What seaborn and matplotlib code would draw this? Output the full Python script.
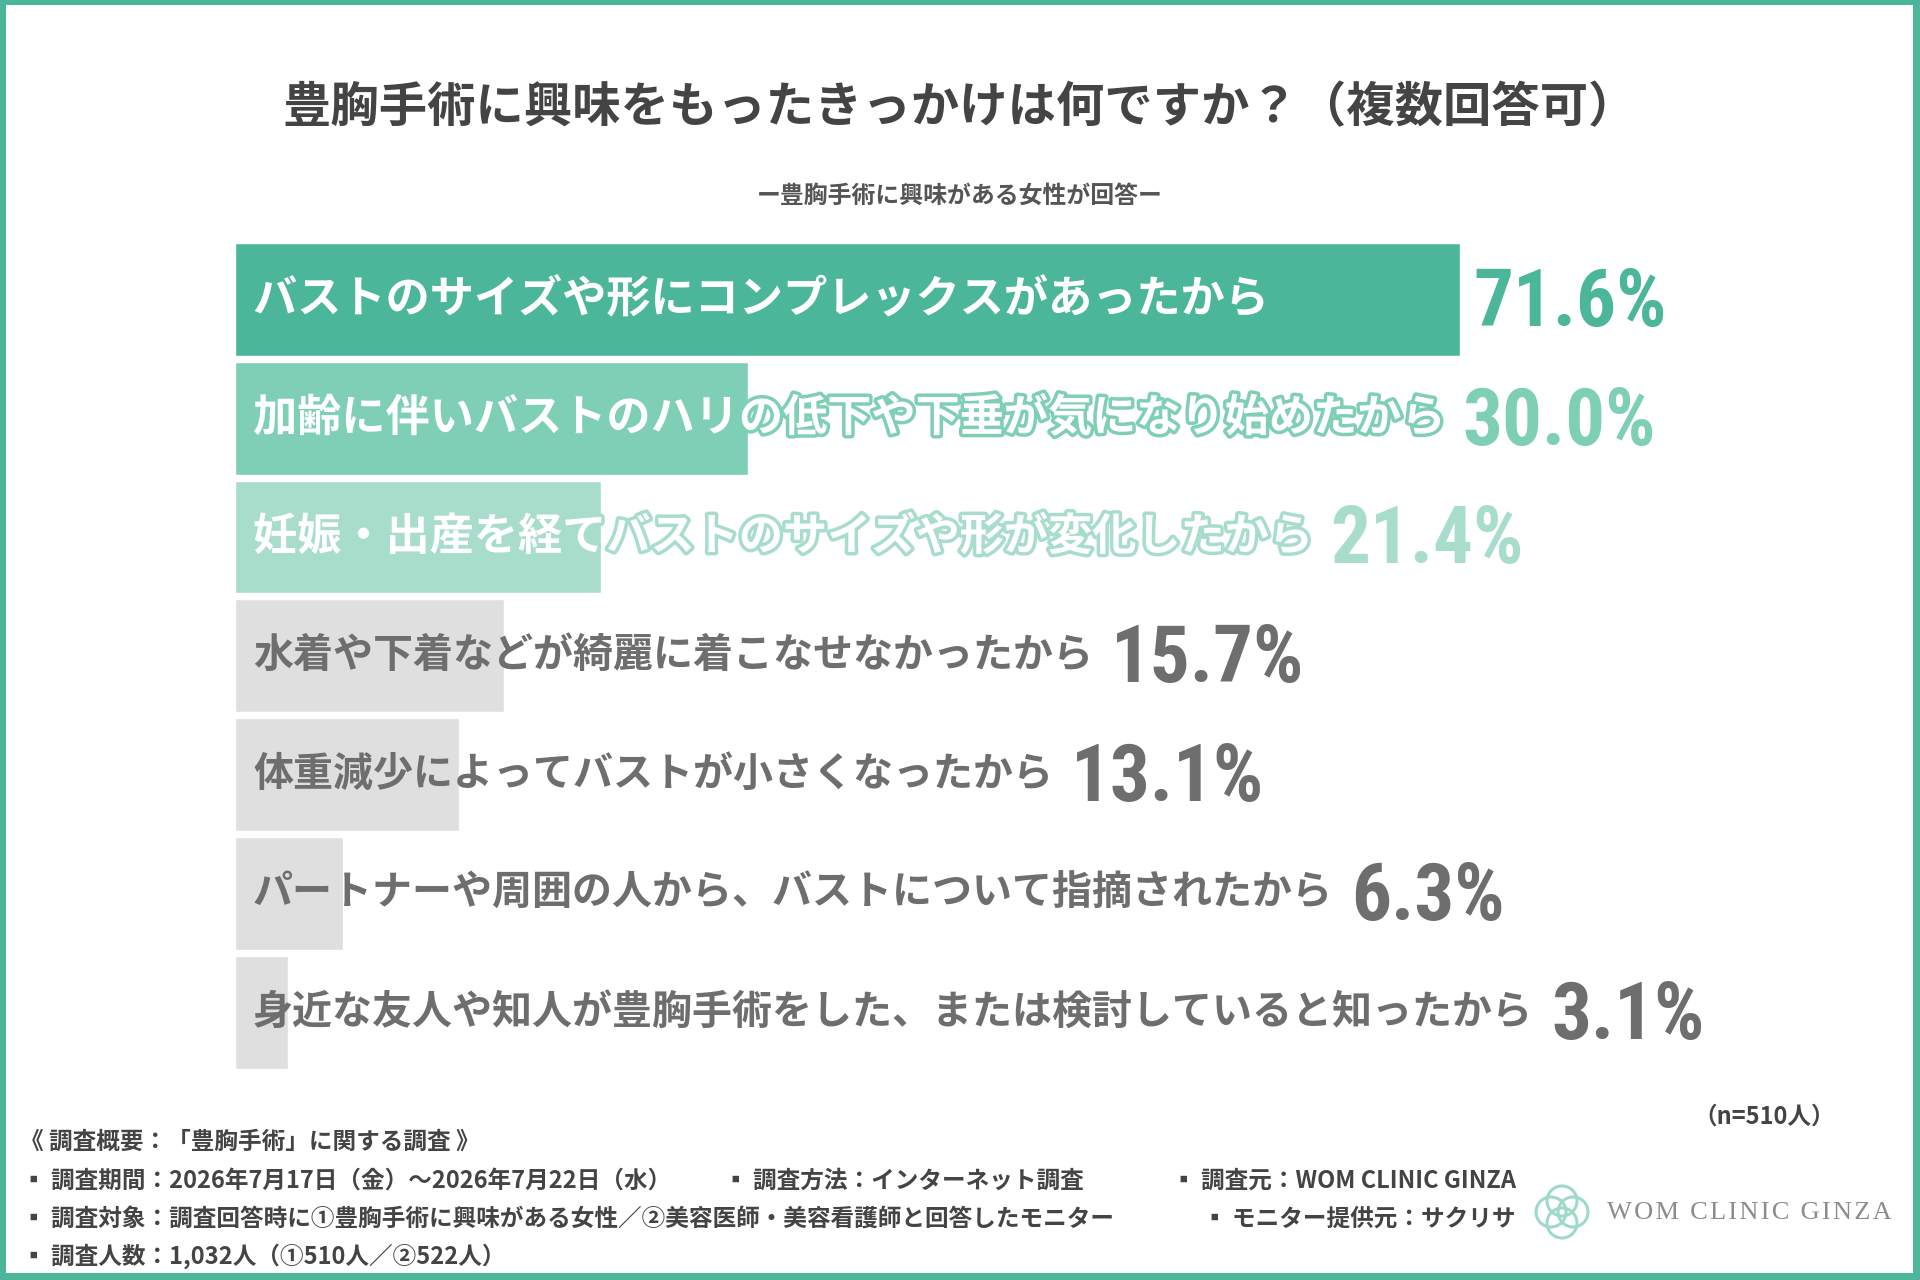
import matplotlib
matplotlib.use("Agg")
import matplotlib.pyplot as plt
import matplotlib.patheffects as pe
import matplotlib.transforms as mtransforms
from matplotlib.patches import Rectangle, Circle
import seaborn as sns

# data
reasons = [
    "バストのサイズや形にコンプレックスがあったから",
    "加齢に伴いバストのハリの低下や下垂が気になり始めたから",
    "妊娠・出産を経てバストのサイズや形が変化したから",
    "水着や下着などが綺麗に着こなせなかったから",
    "体重減少によってバストが小さくなったから",
    "パートナーや周囲の人から、バストについて指摘されたから",
    "身近な友人や知人が豊胸手術をした、または検討していると知ったから",
]
rates = [71.6, 30.0, 21.4, 15.7, 13.1, 6.3, 3.1]
bar_colors = ["#4bb69a", "#7ecfb6", "#a8ddcc", "#dfdfdf", "#dfdfdf", "#dfdfdf", "#dfdfdf"]
value_colors = ["#4bb69a", "#7ecfb6", "#a8ddcc", "#6e6e6e", "#6e6e6e", "#6e6e6e", "#6e6e6e"]

title = "豊胸手術に興味をもったきっかけは何ですか？（複数回答可）"
subtitle = "ー豊胸手術に興味がある女性が回答ー"
n_note = "（n=510人）"
footer_head = "《 調査概要：「豊胸手術」に関する調査 》"
footer_items = [
    "▪ 調査期間：2026年7月17日（金）～2026年7月22日（水）",
    "▪ 調査方法：インターネット調査",
    "▪ 調査元：WOM CLINIC GINZA",
    "▪ 調査対象：調査回答時に①豊胸手術に興味がある女性／②美容医師・美容看護師と回答したモニター",
    "▪ モニター提供元：サクリサ",
    "▪ 調査人数：1,032人（①510人／②522人）",
]
brand = "WOM CLINIC GINZA"

sns.set_theme(style="white")
plt.rcParams["font.family"] = ["Noto Sans CJK JP", "DejaVu Sans"]
num_font = ["Roboto Condensed", "Liberation Sans Narrow", "DejaVu Sans"]

W, H = 1920, 1280
fig = plt.figure(figsize=(W / 100, H / 100), dpi=100)
fig.patch.set_facecolor("white")

teal = "#4bb69a"
dark = "#444444"
gray_txt = "#6e6e6e"

# bar area: 0% at x=235px, 71.6% at x=1460px
px_per_pct = (1460 - 235) / 71.6
ax = fig.add_axes([235 / W, 1 - 1071.6 / H, (W - 235) / W, 831.6 / H])
sns.barplot(x=rates, y=reasons, hue=reasons, palette=bar_colors, legend=False,
            orient="h", width=0.95, saturation=1, ax=ax)
ax.set_xlim(0, (W - 235) / px_per_pct)
ax.set_ylim(6.5, -0.5)
ax.set_axis_off()

label_texts = []
for i, (txt, v) in enumerate(zip(reasons, rates)):
    top = i < 3
    t = ax.annotate(
        txt, xy=(0, i), xytext=(13, 0), textcoords="offset points",
        ha="left", va="center", fontsize=31.8 if top else 28.8, fontweight="bold",
        color="white" if top else gray_txt,
        path_effects=[pe.withStroke(linewidth=5, foreground=bar_colors[i])] if top else None,
    )
    label_texts.append(t)

fig.canvas.draw()
renderer = fig.canvas.get_renderer()
for i, t in enumerate(label_texts):
    bb = t.get_window_extent(renderer)
    bar_end = ax.transData.transform((rates[i], i))[0]
    x_px = max(bb.x1 + 18, bar_end + 13)
    ax.annotate(
        f"{rates[i]:.1f}%", xy=(rates[i], i), xytext=((x_px - bar_end) * 0.72, -3.5),
        textcoords="offset points", ha="left", va="center",
        fontsize=57, fontweight="bold", color=value_colors[i], family=num_font,
    )

# titles
fig.text(0.5, 1 - 108 / H, title, ha="center", va="center", fontsize=34.8,
         fontweight="bold", color=dark)
fig.text(0.5, 1 - 196 / H, subtitle, ha="center", va="center", fontsize=17.2,
         fontweight="bold", color="#555555")

# footer
fs = 17
fig.text(1835 / W, 1 - 1117 / H, n_note, ha="right", va="center", fontsize=fs,
         fontweight="bold", color=dark)
fig.text(20 / W, 1 - 1142 / H, footer_head, ha="left", va="center", fontsize=fs,
         fontweight="bold", color=dark)
foot_pos = [(22, 1181), (724, 1181), (1172, 1181), (22, 1219), (1203, 1219), (22, 1256)]
for txt, (x, y) in zip(footer_items, foot_pos):
    fig.text(x / W, 1 - y / H, txt, ha="left", va="center", fontsize=fs,
             fontweight="bold", color=dark)

# logo
ident = mtransforms.IdentityTransform()
cx, cy = 1562, H - 1212
for dx, dy in [(0, 11), (0, -11), (-11, 0), (11, 0)]:
    fig.add_artist(Circle((cx + dx, cy + dy), 15, transform=ident, fill=False,
                          ec="#9fd9c9", lw=2.2))
fig.text(1607 / W, 1 - 1213 / H, "\u200a".join(brand), ha="left", va="center", fontsize=19,
         family=["Liberation Serif", "DejaVu Serif"], color="#8c8c8c")

# frame
for rect in [(0, 0, 6 / W, 1), (1 - 7 / W, 0, 7 / W, 1), (0, 1 - 5 / H, 1, 5 / H), (0, 0, 1, 7 / H)]:
    fig.add_artist(Rectangle(rect[:2], rect[2], rect[3], transform=fig.transFigure,
                             color=teal, lw=0, zorder=10))

fig.savefig("out.png", dpi=100)
